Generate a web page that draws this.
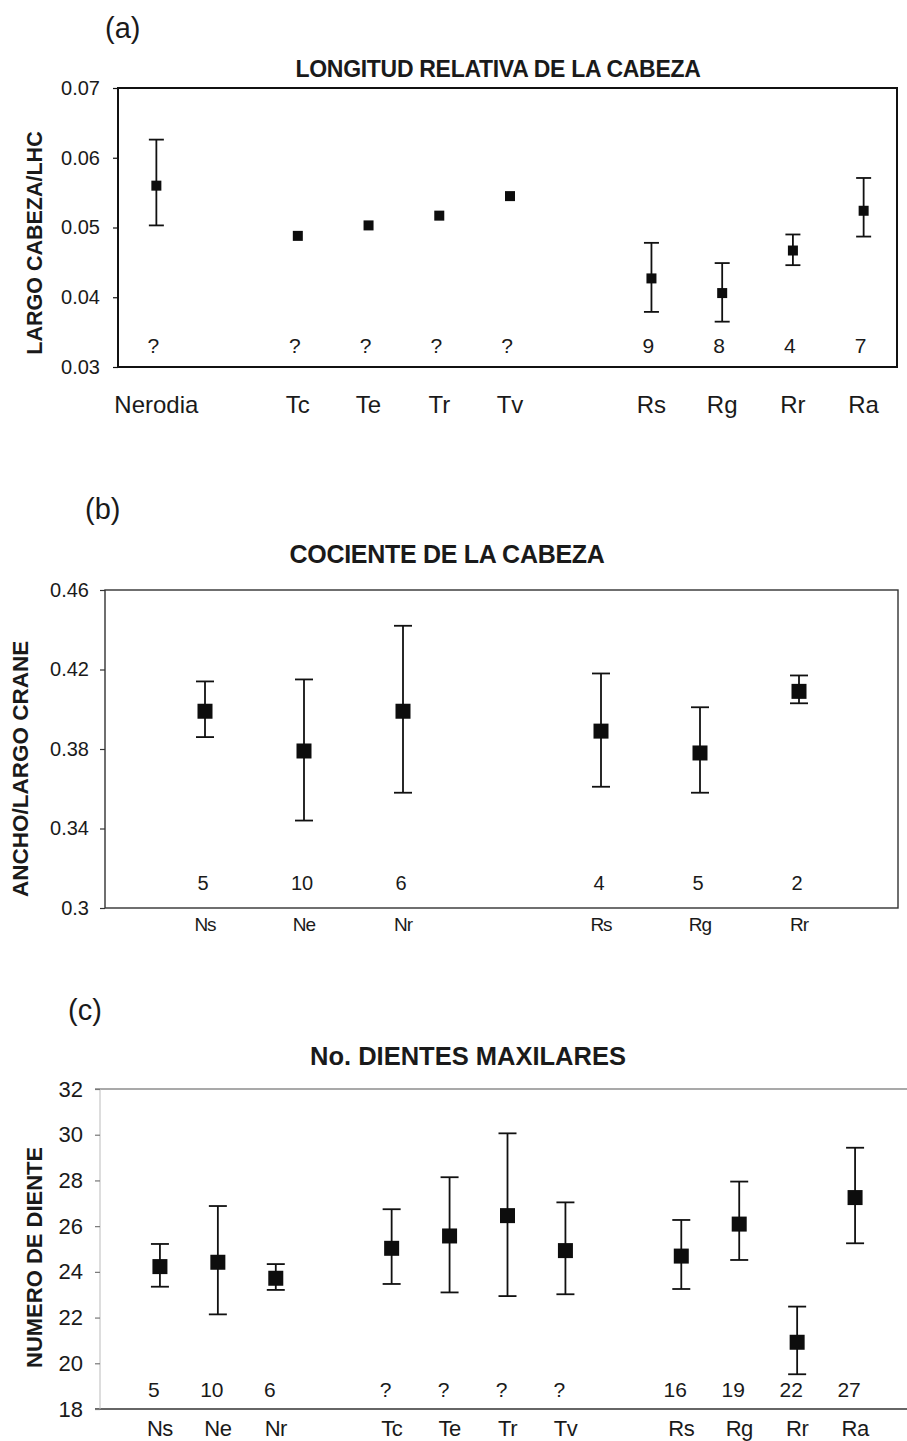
<!DOCTYPE html>
<html>
<head>
<meta charset="utf-8">
<script src="https://cdn.jsdelivr.net/npm/d3@7"></script>
<style>
  body { margin: 0; background: #fff; }
  text { font-family: "Liberation Sans", Arial, sans-serif; fill: #1a1a1a; }
</style>
</head>
<body>
<div id="chart"></div>
<script>
const svgWidth = 907
const svgHeight = 1441

// (a) longitud relativa de la cabeza -- "" marks an empty slot on the x axis
const catA = ["Nerodia", "", "Tc", "Te", "Tr", "Tv", "", "Rs", "Rg", "Rr", "Ra"]
const meanA = [0.0560, null, 0.0488, 0.0503, 0.0517, 0.0545, null, 0.0427, 0.0406, 0.0467, 0.0524]
const lowA = [0.0503, null, null, null, null, null, null, 0.0379, 0.0365, 0.0446, 0.0487]
const highA = [0.0626, null, null, null, null, null, null, 0.0478, 0.0449, 0.0490, 0.0571]
const nA = ["?", "", "?", "?", "?", "?", "", "9", "8", "4", "7"]
const ticksA = [0.03, 0.04, 0.05, 0.06, 0.07]

// (b) cociente de la cabeza
const catB = ["Ns", "Ne", "Nr", "", "Rs", "Rg", "Rr"]
const meanB = [0.399, 0.379, 0.399, null, 0.389, 0.378, 0.409]
const lowB = [0.386, 0.344, 0.358, null, 0.361, 0.358, 0.403]
const highB = [0.414, 0.415, 0.442, null, 0.418, 0.401, 0.417]
const nB = ["5", "10", "6", "", "4", "5", "2"]
const ticksB = [0.3, 0.34, 0.38, 0.42, 0.46]

// (c) no. dientes maxilares
const catC = ["Ns", "Ne", "Nr", "", "Tc", "Te", "Tr", "Tv", "", "Rs", "Rg", "Rr", "Ra"]
const meanC = [24.23, 24.42, 23.72, null, 25.03, 25.57, 26.46, 24.93, null, 24.69, 26.09, 20.92, 27.25]
const lowC = [23.35, 22.14, 23.21, null, 23.47, 23.10, 22.94, 23.02, null, 23.25, 24.52, 19.52, 25.25]
const highC = [25.22, 26.88, 24.34, null, 26.74, 28.14, 30.06, 27.04, null, 26.27, 27.95, 22.48, 29.43]
const nC = ["5", "10", "6", "", "?", "?", "?", "?", "", "16", "19", "22", "27"]
const ticksC = [18, 20, 22, 24, 26, 28, 30, 32]

let svg = d3
  .select("#chart")
  .append("svg")
  .attr("width", svgWidth)
  .attr("height", svgHeight)

let defs = svg.append("defs")

function drawPanel(cfg) {
  let g = svg.append("g")

  let x = d3
    .scalePoint()
    .domain(d3.range(cfg.cats.length))
    .range(cfg.xRange)
    .padding(cfg.pad)

  let y = d3
    .scaleLinear()
    .domain(cfg.yDomain)
    .range([cfg.bottom, cfg.top])

  // frame
  if (cfg.style === "box") {
    g.append("rect")
      .attr("x", cfg.left)
      .attr("y", cfg.top)
      .attr("width", cfg.right - cfg.left)
      .attr("height", cfg.bottom - cfg.top)
      .attr("fill", "none")
      .attr("stroke", cfg.frameColor)
      .attr("stroke-width", cfg.frameWidth)
  } else {
    g.append("line")
      .attr("x1", cfg.left - 5).attr("x2", cfg.right)
      .attr("y1", cfg.top).attr("y2", cfg.top)
      .attr("stroke", "#555").attr("stroke-width", 1.2)
    g.append("line")
      .attr("x1", cfg.left - 5).attr("x2", cfg.right)
      .attr("y1", cfg.bottom).attr("y2", cfg.bottom)
      .attr("stroke", "#333").attr("stroke-width", 1.5)
    g.append("line")
      .attr("x1", cfg.left).attr("x2", cfg.left)
      .attr("y1", cfg.top).attr("y2", cfg.bottom)
      .attr("stroke", "#bbb").attr("stroke-width", 1)
  }

  // y axis
  let leftAxis = d3
    .axisLeft(y)
    .tickValues(cfg.ticks)
    .tickSize(5)
    .tickPadding(cfg.tickPad)
    .tickFormat(cfg.fmt)

  let yAxis = g.append("g")
    .attr("transform", `translate(${cfg.left}, 0)`)
    .call(leftAxis)
  yAxis.select(".domain").remove()
  yAxis.selectAll(".tick line").attr("stroke", cfg.tickColor).attr("stroke-width", 1.2)
  yAxis.selectAll(".tick text")
    .attr("font-size", cfg.tickSize + "px")
    .attr("fill", "#1a1a1a")
    .style("font-family", "Liberation Sans, Arial, sans-serif")

  let pts = cfg.cats.map((c, i) => ({
    i: i, cat: c, mean: cfg.mean[i], low: cfg.low[i], high: cfg.high[i], n: cfg.n[i]
  }))
  let withMean = pts.filter(d => d.mean !== null)
  let withErr = pts.filter(d => d.low !== null)

  // error bars
  g.selectAll(".err")
    .data(withErr)
    .enter()
    .append("line")
    .attr("x1", d => x(d.i)).attr("x2", d => x(d.i))
    .attr("y1", d => y(d.low)).attr("y2", d => y(d.high))
    .attr("stroke", "#111").attr("stroke-width", 1.8)

  ;["low", "high"].forEach(k => {
    g.selectAll(".cap-" + k)
      .data(withErr)
      .enter()
      .append("line")
      .attr("x1", d => x(d.i) - cfg.cap / 2).attr("x2", d => x(d.i) + cfg.cap / 2)
      .attr("y1", d => y(d[k])).attr("y2", d => y(d[k]))
      .attr("stroke", "#111").attr("stroke-width", 1.8)
  })

  // means
  g.selectAll(".pt")
    .data(withMean)
    .enter()
    .append("rect")
    .attr("x", d => x(d.i) - cfg.ms / 2)
    .attr("y", d => y(d.mean) - cfg.ms / 2)
    .attr("width", cfg.ms)
    .attr("height", cfg.ms)
    .attr("fill", "#0d0d0d")

  // sample sizes
  g.selectAll(".n")
    .data(pts.filter(d => d.n !== ""))
    .enter()
    .append("text")
    .attr("x", d => x(d.i) + cfg.nDx)
    .attr("y", cfg.nY)
    .attr("font-size", cfg.nSize + "px")
    .style("text-anchor", "middle")
    .text(d => d.n)

  // category labels
  g.selectAll(".cat")
    .data(pts.filter(d => d.cat !== ""))
    .enter()
    .append("text")
    .attr("x", d => x(d.i))
    .attr("y", cfg.catY)
    .attr("font-size", cfg.catSize + "px")
    .attr("letter-spacing", cfg.catSpacing)
    .style("text-anchor", "middle")
    .text(d => d.cat)

  // title
  g.append("text")
    .attr("x", cfg.titleX)
    .attr("y", cfg.titleY)
    .attr("font-size", cfg.titleSize + "px")
    .attr("font-weight", "bold")
    .attr("letter-spacing", cfg.titleSpacing)
    .style("text-anchor", "middle")
    .text(cfg.title)

  // panel letter
  g.append("text")
    .attr("x", cfg.letterX)
    .attr("y", cfg.letterY)
    .attr("font-size", "29px")
    .text(cfg.letter)

  // y label (clipped like the original where it ran out of room)
  let clipId = "clip-" + cfg.letter.replace(/[()]/g, "")
  defs.append("clipPath")
    .attr("id", clipId)
    .append("rect")
    .attr("x", 0)
    .attr("y", cfg.yLabClip)
    .attr("width", 80)
    .attr("height", 800)

  g.append("g")
    .attr("clip-path", `url(#${clipId})`)
    .append("text")
    .attr("transform", `translate(${cfg.yLabX}, ${cfg.yLabY}) rotate(-90)`)
    .attr("font-size", cfg.yLabSize + "px")
    .attr("font-weight", "bold")
    .style("text-anchor", cfg.yLabAnchor)
    .text(cfg.yLabel)
}

drawPanel({
  letter: "(a)", letterX: 105, letterY: 38,
  title: "LONGITUD RELATIVA DE LA CABEZA", titleX: 498, titleY: 77, titleSize: 23, titleSpacing: -0.3,
  yLabel: "LARGO CABEZA/LHC", yLabX: 42, yLabY: 243, yLabSize: 21.5, yLabAnchor: "middle", yLabClip: 0,
  cats: catA, mean: meanA, low: lowA, high: highA, n: nA,
  ticks: ticksA, fmt: d3.format(".2f"), yDomain: [0.03, 0.07],
  style: "box", frameColor: "#111", frameWidth: 2, tickColor: "#111",
  left: 118, right: 897, top: 88, bottom: 367,
  xRange: [121, 899], pad: 0.5,
  tickPad: 13, tickSize: 20,
  ms: 10, cap: 15,
  nY: 353, nDx: -3, nSize: 21,
  catY: 413, catSize: 24, catSpacing: 0
})

drawPanel({
  letter: "(b)", letterX: 85, letterY: 519,
  title: "COCIENTE DE LA CABEZA", titleX: 447, titleY: 563, titleSize: 25, titleSpacing: -0.3,
  yLabel: "ANCHO/LARGO CRANEO", yLabX: 28, yLabY: 897, yLabSize: 22.5, yLabAnchor: "start", yLabClip: 640,
  cats: catB, mean: meanB, low: lowB, high: highB, n: nB,
  ticks: ticksB, fmt: d => d3.format(".2~f")(d), yDomain: [0.3, 0.46],
  style: "box", frameColor: "#333", frameWidth: 1.4, tickColor: "#333",
  left: 105, right: 898, top: 590, bottom: 908,
  xRange: [106, 898], pad: 1,
  tickPad: 11, tickSize: 20,
  ms: 15, cap: 18,
  nY: 890, nDx: -2, nSize: 20,
  catY: 931, catSize: 19, catSpacing: -1
})

drawPanel({
  letter: "(c)", letterX: 68, letterY: 1020,
  title: "No. DIENTES MAXILARES", titleX: 468, titleY: 1065, titleSize: 25.5, titleSpacing: 0,
  yLabel: "NUMERO DE DIENTES", yLabX: 42, yLabY: 1368, yLabSize: 22, yLabAnchor: "start", yLabClip: 1148,
  cats: catC, mean: meanC, low: lowC, high: highC, n: nC,
  ticks: ticksC, fmt: d3.format("d"), yDomain: [18, 32],
  style: "open", tickColor: "#777",
  left: 100, right: 907, top: 1089, bottom: 1409,
  xRange: [102, 913], pad: 1,
  tickPad: 12, tickSize: 22,
  ms: 15, cap: 18,
  nY: 1397, nDx: -6, nSize: 21,
  catY: 1436, catSize: 22, catSpacing: -0.5
})
</script>
</body>
</html>
